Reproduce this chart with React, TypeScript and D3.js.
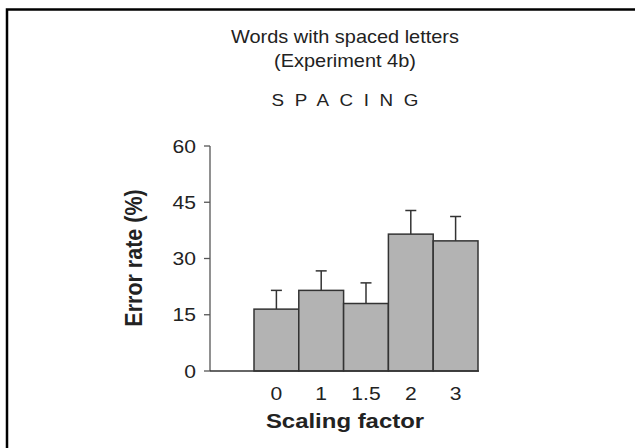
import React from 'react';
import * as d3 from 'd3';

const categories = ['0', '1', '1.5', '2', '3'];
const errorRates = [16.5, 21.5, 18.0, 36.5, 34.7];
const errorTops = [21.5, 26.7, 23.5, 42.8, 41.2];
const yTicks = [0, 15, 30, 45, 60];

const W = 635;
const H = 448;
const font = 'Liberation Sans, Arial, Helvetica, sans-serif';
// the source figure's lettering is a little wider than Arial
const SX = 1.14;

const Label = ({ x, y, rotate = 0, children, ...rest }: any) => (
    <text transform={`translate(${x},${y}) scale(${SX},1)${rotate ? ` rotate(${rotate})` : ''}`}
        fill="#222" {...rest}>{children}</text>
);

const App = () => {
    const y = d3.scaleLinear().domain([0, 60]).range([371, 146]);
    const x = d3.scaleBand().domain(categories).range([254, 478]).paddingInner(0);
    const axisX = 210;
    const cx = 345;

    return (
        <svg width={W} height={H} style={{ position: 'absolute', left: 0, top: 0, background: '#fff' }}
            fontFamily={font}>
            {/* frame */}
            <path d={`M7,${H} V9.5 H${W}`} fill="none" stroke="#000" strokeWidth={2.5} />

            {/* titles */}
            <Label x={cx} y={43} textAnchor="middle" fontSize={17.5}>Words with spaced letters</Label>
            <Label x={cx} y={67} textAnchor="middle" fontSize={17.5}>(Experiment 4b)</Label>
            <Label x={cx} y={106} textAnchor="middle" fontSize={16.5} letterSpacing={9.3} dx={4.65}>SPACING</Label>

            {/* bars */}
            {categories.map((c, i) => (
                <g key={c}>
                    <line x1={x(c)! + x.bandwidth() / 2} x2={x(c)! + x.bandwidth() / 2}
                        y1={y(errorRates[i])} y2={y(errorTops[i])} stroke="#333" strokeWidth={1.5} />
                    <line x1={x(c)! + x.bandwidth() / 2 - 5.5} x2={x(c)! + x.bandwidth() / 2 + 5.5}
                        y1={y(errorTops[i])} y2={y(errorTops[i])} stroke="#333" strokeWidth={1.5} />
                    <rect x={x(c)} y={y(errorRates[i])} width={x.bandwidth()} height={y(0) - y(errorRates[i])}
                        fill="#b3b3b3" stroke="#333" strokeWidth={1.5} />
                </g>
            ))}

            {/* y axis */}
            <line x1={axisX} x2={axisX} y1={y(60)} y2={y(0)} stroke="#555" strokeWidth={1.3} />
            {yTicks.map(t => (
                <g key={t}>
                    <line x1={axisX - 6} x2={axisX} y1={y(t)} y2={y(t)} stroke="#555" strokeWidth={1.3} />
                    <Label x={196} y={y(t)} dy="0.36em" textAnchor="end" fontSize={18.5}>{t}</Label>
                </g>
            ))}
            {/* x axis */}
            <line x1={axisX} x2={479} y1={y(0)} y2={y(0)} stroke="#333" strokeWidth={1.5} />
            {categories.map(c => (
                <Label key={c} x={x(c)! + x.bandwidth() / 2} y={400} textAnchor="middle" fontSize={18.5}>{c}</Label>
            ))}

            <Label x={345} y={428} textAnchor="middle" fontSize={21} fontWeight="bold">Scaling factor</Label>
            <Label x={142} y={258} rotate={-90} textAnchor="middle" fontSize={21.5} fontWeight="bold">Error rate (%)</Label>
        </svg>
    );
};

export default App;
